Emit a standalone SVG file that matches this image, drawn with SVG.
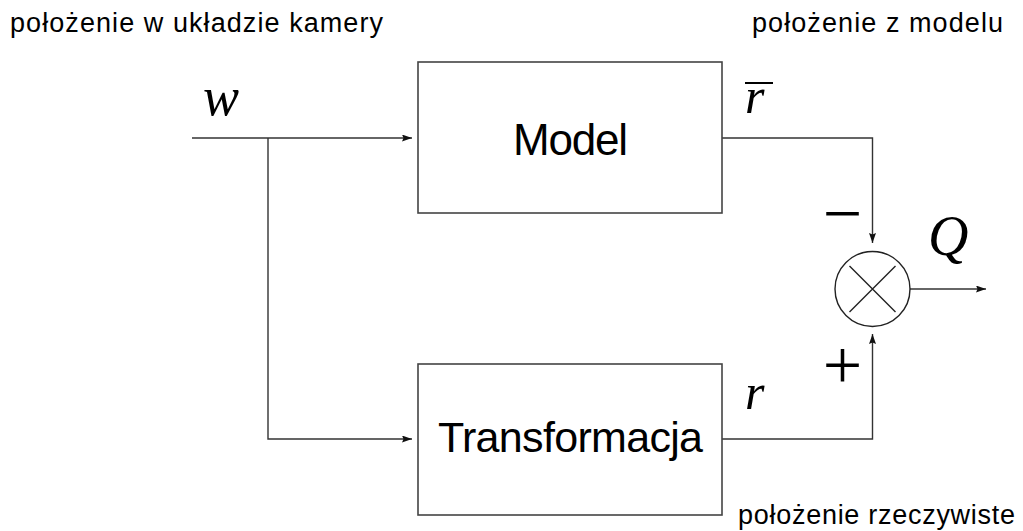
<svg xmlns="http://www.w3.org/2000/svg" width="1023" height="531" viewBox="0 0 1023 531">
  <style>
    .box { fill: #ffffff; stroke: #444444; stroke-width: 1.6; }
    .wire { fill: none; stroke: #333333; stroke-width: 1.4; }
    .label { font-family: "Liberation Sans", "DejaVu Sans", sans-serif; fill: #000000; }
    .math { font-family: "Liberation Serif", "DejaVu Serif", serif; font-style: italic; fill: #000000; }
    .sign { font-family: "Liberation Serif", "DejaVu Serif", serif; fill: #000000; }
  </style>
  <defs>
    <marker id="arrow" markerUnits="userSpaceOnUse" markerWidth="11" markerHeight="8" refX="10" refY="3.5" orient="auto">
      <path d="M0,0 L10,3.5 L0,7 L1.5,3.5 z" fill="#111111"/>
    </marker>
  </defs>

  <rect width="1023" height="531" fill="#ffffff"/>

  <!-- descriptive captions -->
  <text class="label" x="10" y="32" font-size="27" textLength="373">położenie w układzie kamery</text>
  <text class="label" x="752" y="32" font-size="27" textLength="251">położenie z modelu</text>
  <text class="label" x="738" y="524" font-size="27" textLength="277">położenie rzeczywiste</text>

  <!-- signal connectors -->
  <g id="connectors">
    <path class="wire" d="M192,138 H412" marker-end="url(#arrow)"/>
    <path class="wire" d="M268,138 V439 H412" marker-end="url(#arrow)"/>
    <path class="wire" d="M722,138 H872.5 V243" marker-end="url(#arrow)"/>
    <path class="wire" d="M722,439 H872.5 V334" marker-end="url(#arrow)"/>
    <path class="wire" d="M910,289 H986" marker-end="url(#arrow)"/>
  </g>

  <g id="model">
    <rect class="box" x="418" y="62" width="304" height="151"/>
    <text class="label" x="513" y="155" font-size="44" textLength="115">Model</text>
  </g>

  <g id="transformacja">
    <rect class="box" x="418" y="364" width="304" height="151"/>
    <text class="label" x="438" y="452" font-size="43" textLength="265">Transformacja</text>
  </g>

  <g id="sumator">
    <circle cx="872.5" cy="289" r="37.5" fill="#ffffff" stroke="#222222" stroke-width="1.4"/>
    <path d="M849.5,266 L895.5,312 M895.5,266 L849.5,312" stroke="#222222" stroke-width="1.4"/>
  </g>

  <!-- signal symbols -->
  <g id="symbols">
    <text class="math" x="203" y="115" font-size="54">w</text>
    <text class="math" x="745" y="113" font-size="50">r</text>
    <line x1="745" y1="83" x2="773" y2="83" stroke="#000000" stroke-width="2"/>
    <text class="math" x="745" y="409" font-size="50">r</text>
    <text class="math" x="928" y="255" font-size="56">Q</text>
    <text class="sign" x="842.5" y="237" font-size="70" text-anchor="middle">−</text>
    <text class="sign" x="842.5" y="389" font-size="70" text-anchor="middle">+</text>
  </g>
</svg>
